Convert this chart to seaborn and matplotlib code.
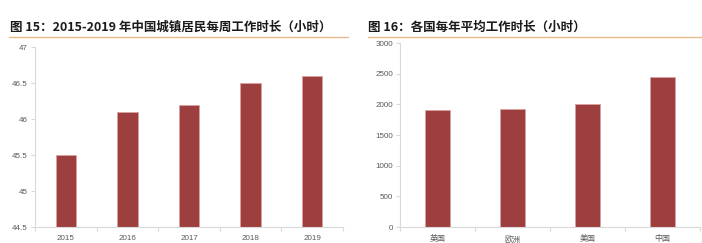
import matplotlib
matplotlib.use("Agg")
import matplotlib.pyplot as plt
import seaborn as sns
import pandas as pd
from matplotlib.lines import Line2D

sns.set_theme(style="white")
plt.rcParams['font.family'] = ['Noto Sans CJK SC', 'DejaVu Sans']

years = ["2015", "2016", "2017", "2018", "2019"]
weekly_hours = [45.5, 46.1, 46.2, 46.5, 46.6]
left_yticks = [44.5, 45, 45.5, 46, 46.5, 47]
left_yticklabels = ["44.5", "45", "45.5", "46", "46.5", "47"]

countries = ["英国", "欧洲", "美国", "中国"]
annual_hours = [1905, 1925, 2005, 2440]
right_yticks = [0, 500, 1000, 1500, 2000, 2500, 3000]

title_left = "图 15：2015-2019 年中国城镇居民每周工作时长（小时）"
title_right = "图 16：各国每年平均工作时长（小时）"

W, H = 702, 243
fig = plt.figure(figsize=(W / 100, H / 100), dpi=100)

bar_color = "#9E3F3F"
edge_color = "#D9A0A0"
spine_color = "#D9D9D9"
tick_color = "#595959"
tick_family = ['Liberation Sans', 'Noto Sans CJK SC']

def px_axes(x0, y0, x1, y1):
    return fig.add_axes([x0 / W, 1 - y1 / H, (x1 - x0) / W, (y1 - y0) / H])

def style(ax, n):
    for s in ["top", "right"]:
        ax.spines[s].set_visible(False)
    for s in ["left", "bottom"]:
        ax.spines[s].set_color(spine_color)
        ax.spines[s].set_linewidth(0.8)
    ax.tick_params(axis="y", which="major", left=True, length=3, width=0.8,
                   color=spine_color, labelsize=5.8, labelcolor=tick_color, pad=2)
    ax.tick_params(axis="x", which="major", bottom=True, length=0, labelsize=5.8,
                   labelcolor=tick_color, pad=6)
    ax.set_xticks([i - 0.5 for i in range(n + 1)], minor=True)
    ax.tick_params(axis="x", which="minor", bottom=True, length=3, width=0.8,
                   color=spine_color)
    for lab in ax.get_xticklabels() + ax.get_yticklabels():
        lab.set_family(tick_family)
    ax.set_xlabel("")
    ax.set_ylabel("")
    ax.set_xlim(-0.5, n - 0.5)

# Left chart
axL = px_axes(35, 47, 343, 227)
dfL = pd.DataFrame({"year": years, "hours": weekly_hours})
sns.barplot(data=dfL, x="year", y="hours", ax=axL, color=bar_color,
            width=0.33, edgecolor=edge_color, linewidth=0.6, saturation=1)
axL.set_ylim(44.5, 47)
axL.set_yticks(left_yticks)
axL.set_yticklabels(left_yticklabels)
style(axL, len(years))

# Right chart
axR = px_axes(400, 43, 700, 227)
dfR = pd.DataFrame({"country": countries, "hours": annual_hours})
sns.barplot(data=dfR, x="country", y="hours", ax=axR, color=bar_color,
            width=0.33, edgecolor=edge_color, linewidth=0.6, saturation=1)
axR.set_ylim(0, 3000)
axR.set_yticks(right_yticks)
style(axR, len(countries))

# Titles and separators
fig.text(10 / W, 1 - 27 / H, title_left, fontsize=9, fontweight="bold",
         color="#1a1a1a", va="center", ha="left")
fig.text(368 / W, 1 - 27 / H, title_right, fontsize=9, fontweight="bold",
         color="#1a1a1a", va="center", ha="left")
line_c = "#E8B98A"
fig.add_artist(Line2D([9 / W, 348 / W], [1 - 37.5 / H] * 2, color=line_c, lw=1.0))
fig.add_artist(Line2D([368 / W, 702 / W], [1 - 37.5 / H] * 2, color=line_c, lw=1.0))

fig.savefig("out.png", dpi=100)
